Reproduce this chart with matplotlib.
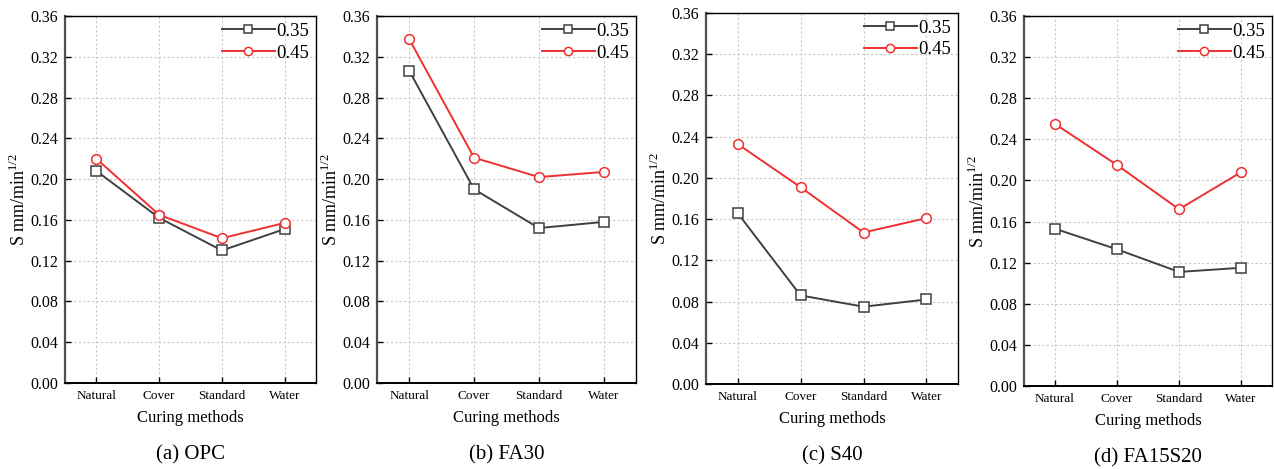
import matplotlib
matplotlib.use("Agg")
import matplotlib.pyplot as plt

plt.rcParams["font.family"] = ["Liberation Serif", "DejaVu Serif"]
plt.rcParams["mathtext.fontset"] = "custom"
plt.rcParams["mathtext.rm"] = "Liberation Serif"

methods = ["Natural", "Cover", "Standard", "Water"]
series_names = ["0.35", "0.45"]

opc_035 = [0.208, 0.162, 0.130, 0.151]
opc_045 = [0.220, 0.165, 0.142, 0.157]
fa30_035 = [0.306, 0.190, 0.152, 0.158]
fa30_045 = [0.337, 0.221, 0.202, 0.207]
s40_035 = [0.166, 0.086, 0.075, 0.082]
s40_045 = [0.233, 0.191, 0.147, 0.161]
fa15s20_035 = [0.153, 0.133, 0.111, 0.115]
fa15s20_045 = [0.255, 0.215, 0.172, 0.208]

captions = ["(a) OPC", "(b) FA30", "(c) S40", "(d) FA15S20"]
panels = [(opc_035, opc_045), (fa30_035, fa30_045),
          (s40_035, s40_045), (fa15s20_035, fa15s20_045)]

W, H = 1274, 469
# axes boxes in pixels: left, top, right, bottom
boxes = [(65, 16, 316, 383), (377, 16, 636, 383),
         (706, 13, 958, 384), (1024, 16, 1272, 386)]

fig = plt.figure(figsize=(W / 100, H / 100), dpi=100)

for (y1, y2), (l, t, r, b), cap in zip(panels, boxes, captions):
    ax = fig.add_axes([l / W, 1 - b / H, (r - l) / W, (b - t) / H])
    x = range(len(methods))
    ax.plot(x, y1, color="#404040", lw=1.4, marker="s", ms=6.5,
            mfc="white", mec="#404040", mew=1.1, label=series_names[0])
    ax.plot(x, y2, color="#f03030", lw=1.4, marker="o", ms=7,
            mfc="white", mec="#f03030", mew=1.1, label=series_names[1])
    ax.set_xlim(-0.5, 3.5)
    ax.set_ylim(0, 0.36)
    ax.set_yticks([i * 0.04 for i in range(10)])
    ax.set_yticklabels([f"{i * 0.04:.2f}" for i in range(10)], fontsize=11.5)
    ax.set_xticks(list(x))
    ax.set_xticklabels(methods, fontsize=9.5)
    ax.tick_params(direction="in", length=4, width=1, pad=5)
    ax.grid(True, color="#c8c8c8", ls=(0, (2, 2)), lw=0.8)
    ax.set_axisbelow(True)
    for side in ["top", "right"]:
        ax.spines[side].set_linewidth(1.0)
    ax.spines["left"].set_linewidth(1.6)
    ax.spines["left"].set_color("#505050")
    ax.spines["bottom"].set_linewidth(1.4)
    ax.set_xlabel("Curing methods", fontsize=12, labelpad=6)
    ax.set_ylabel("S mm/min$^{1/2}$", fontsize=13, labelpad=1)
    ax.legend(loc="upper right", frameon=False, fontsize=13.5,
              handlelength=2.8, handletextpad=0.1, labelspacing=0.25,
              borderaxespad=0.1, borderpad=0.25, markerscale=0.85)
    ax.text(0.5, -0.195, cap, transform=ax.transAxes, ha="center",
            va="center", fontsize=15)

fig.savefig("out.png", dpi=100)
